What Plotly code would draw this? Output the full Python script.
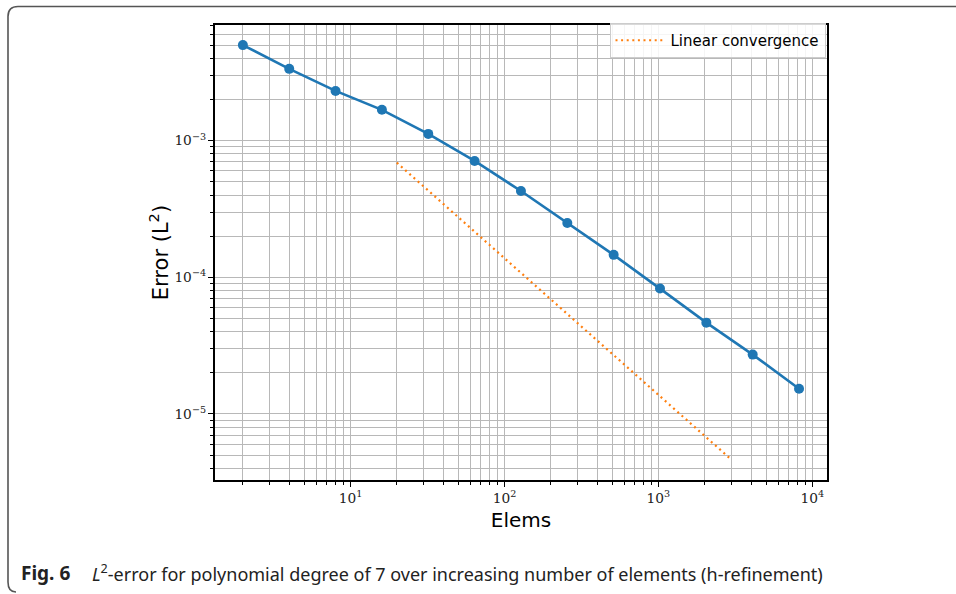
import plotly.graph_objects as go

# h-refinement study: number of elements vs. L2 error (polynomial degree 7)
elems = [2, 4, 8, 16, 32, 64, 128, 256, 512, 1024, 2048, 4096, 8192]
l2_error = [5.0e-3, 3.35e-3, 2.31e-3, 1.68e-3, 1.12e-3, 7.1e-4, 4.28e-4,
            2.50e-4, 1.46e-4, 8.27e-5, 4.66e-5, 2.72e-5, 1.53e-5]

# reference slope (first order)
ref_elems = [20, 2900]
ref_error = [6.9e-4, 4.76e-6]

caption_label = "Fig. 6"
caption_text = "<i>L</i><sup>2</sup>-error for polynomial degree of 7 over increasing number of elements (h-refinement)"

W, H = 956, 594
L, R, T, B = 215, 827, 25, 480  # plot area in pixels


def px(x):
    return (x - L) / (R - L)


def py(y):
    return (B - y) / (B - T)


fig = go.Figure()
fig.add_trace(go.Scatter(
    x=elems, y=l2_error, mode="lines+markers",
    line=dict(color="#1f77b4", width=2.6),
    marker=dict(color="#1f77b4", size=10),
    showlegend=False,
))
fig.add_trace(go.Scatter(
    x=ref_elems, y=ref_error, mode="lines",
    line=dict(color="#ff7f0e", width=2.2, dash="2px,3.6px"),
    name="Linear convergence",
))

grid_color = "#b8b8b8"
axis_common = dict(
    type="log", showline=True, linecolor="black", linewidth=1.5, mirror=True,
    ticks="outside", ticklen=5, tickwidth=1.2, tickcolor="black",
    showgrid=True, gridcolor=grid_color, gridwidth=1.4,
    dtick=1, exponentformat="power",
    tickfont=dict(family="DejaVu Serif", size=11, color="#222"),
    minor=dict(ticks="outside", ticklen=3, tickwidth=1, tickcolor="black",
               showgrid=True, gridcolor=grid_color, gridwidth=1.4),
    zeroline=False,
)

fig.update_xaxes(
    **axis_common, range=[0.12, 4.095],
    labelalias={"10": "10<sup>1</sup>"},
    title=dict(text="Elems", font=dict(family="DejaVu Sans", size=20, color="black"), standoff=8),
)
fig.update_yaxes(
    **axis_common, range=[-5.483, -2.154],
    title=dict(text="Error (L<sup>2</sup>)", font=dict(family="DejaVu Sans", size=21, color="black"), standoff=0),
)

# rounded frame around the figure
frame = (f"M {px(956)},{py(6.5)} L {px(18)},{py(6.5)} "
         f"Q {px(8)},{py(6.5)} {px(8)},{py(16.5)} "
         f"L {px(8)},{py(582)} Q {px(8)},{py(592)} {px(16)},{py(592)}")

fig.update_layout(
    width=W, height=H,
    margin=dict(l=L, r=W - R, t=T, b=H - B),
    paper_bgcolor="white", plot_bgcolor="white",
    font=dict(family="DejaVu Sans"),
    legend=dict(
        x=1 - 1.5 / (R - L), y=1 + 2 / (B - T), xanchor="right", yanchor="top",
        itemwidth=50,
        bgcolor="rgba(255,255,255,0.85)", bordercolor="#cccccc", borderwidth=1,
        font=dict(family="DejaVu Sans", size=15, color="black"),
    ),
    shapes=[dict(type="path", path=frame, xref="paper", yref="paper",
                 line=dict(color="#555555", width=1.6), layer="above")],
    annotations=[
        dict(text=f"<b>{caption_label}</b>", xref="paper", yref="paper",
             x=px(19), y=py(573), xanchor="left", yanchor="middle", showarrow=False,
             font=dict(family="Noto Sans", size=19, color="#222")),
        dict(text=caption_text, xref="paper", yref="paper",
             x=px(90), y=py(573), xanchor="left", yanchor="middle", showarrow=False,
             font=dict(family="Noto Sans", size=18, color="#222")),
    ],
)

fig.write_html("out.html")
